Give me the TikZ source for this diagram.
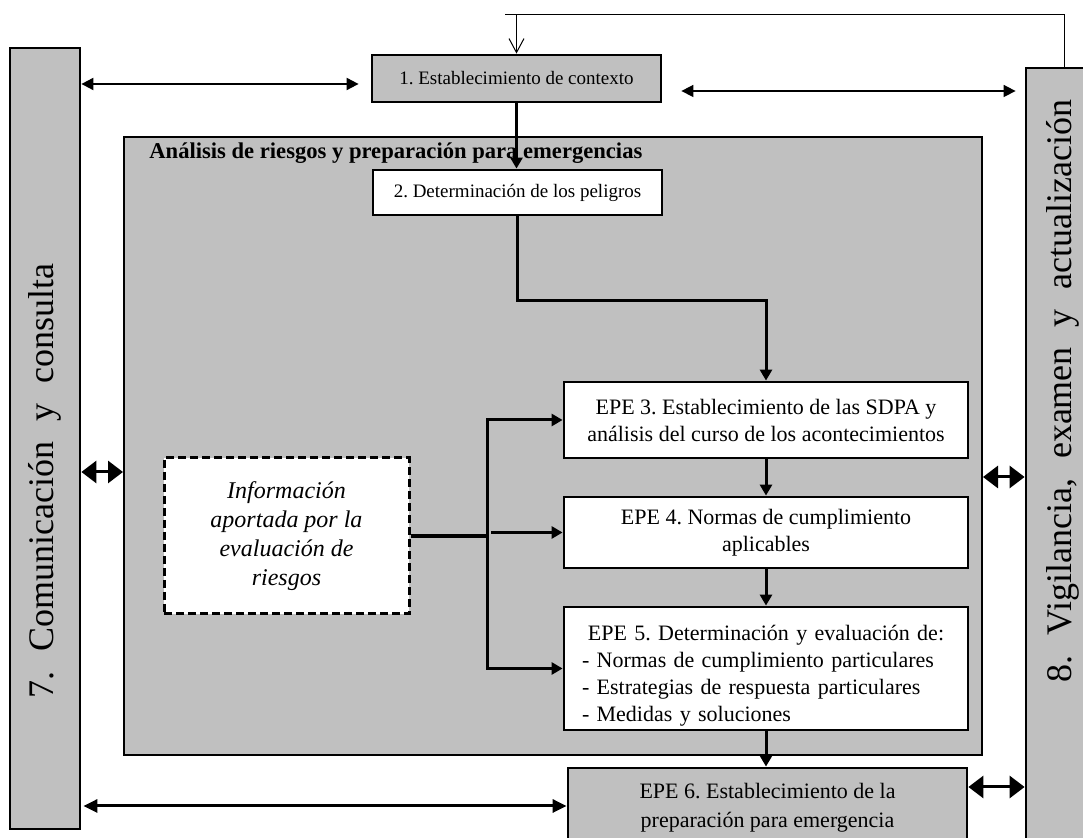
\documentclass[tikz,border=0pt]{standalone}
\usepackage{fontspec}
\setmainfont{Liberation Serif}
\usetikzlibrary{arrows.meta}
\definecolor{boxgray}{RGB}{192,192,192}
\newcommand{\widesp}{\spaceskip=10pt\relax}
\frenchspacing
\tikzset{
  stage/.style={draw, line width=1.4pt, fill=white, align=center, inner sep=0pt},
  flow/.style={line width=1.5pt, -{Triangle[length=5.5pt,width=6pt]}},
  link/.style={line width=1pt, {Triangle[length=6pt,width=6pt]}-{Triangle[length=6pt,width=6pt]}},
  biglink/.style={line width=1.5pt, {Triangle[length=7.5pt,width=11pt]}-{Triangle[length=7.5pt,width=11pt]}},
  sidetxt/.style={rotate=90, font=\fontsize{18}{21}\selectfont}
}
\begin{document}
\begin{tikzpicture}[x=0.5pt, y=-0.5pt]
    \clip (0,0) rectangle (1083,838);

      % Column 7
      \node[draw, line width=1.4pt, fill=boxgray, minimum width=35pt, minimum height=390.5pt, inner sep=0pt] (comm) at (45,438.5) {};
      \node[sidetxt] (commtxt) at (45,481) {\widesp 7. Comunicación y consulta};

      % Column 8
      \node[draw, line width=1.4pt, fill=boxgray, minimum width=47pt, minimum height=396pt, inner sep=0pt] (vig) at (1073,464) {};
      \node[sidetxt] (vigtxt) at (1063,391) {\widesp 8. Vigilancia, examen y actualización};

      % Grey region
      \node[draw, line width=1pt, fill=boxgray, minimum width=429pt, minimum height=309pt, inner sep=0pt] (region) at (553,446) {};
      \node[anchor=base west, inner sep=0pt, font=\bfseries\fontsize{11.3}{13}\selectfont] (regtitle) at (149,159) {Análisis de riesgos y preparación para emergencias};

      % Steps 1 and 2
      \node[stage, fill=boxgray, minimum width=144.5pt, minimum height=23.5pt, font=\fontsize{9.5}{11}\selectfont] (ctx) at (516.5,78.5) {1. Establecimiento de contexto};
      \node[stage, minimum width=144.5pt, minimum height=22.5pt, font=\fontsize{9.5}{11}\selectfont] (hazards) at (517.5,192.5) {2. Determinación de los peligros};

      % Input box
      \node[draw, dash pattern=on 4pt off 2pt, line width=1.5pt, fill=white, minimum width=122.5pt, minimum height=78pt, align=center, font=\itshape\fontsize{12}{14.5}\selectfont] (info) at (286.5,536) {Información\\aportada por la\\evaluación de\\riesgos};

      % EPE 3 to 6
      \node[stage, minimum width=202pt, minimum height=38pt, font=\fontsize{11}{13.5}\selectfont] (epe3) at (766,420) {EPE 3. Establecimiento de las SDPA y\\análisis del curso de los acontecimientos};
      \node[stage, minimum width=202pt, minimum height=35.5pt, font=\fontsize{11}{13.5}\selectfont] (epe4) at (766,532.5) {EPE 4. Normas de cumplimiento\\aplicables};
      \node[stage, minimum width=202pt, minimum height=61.5pt, text width=184pt, align=left, font=\fontsize{11}{13.5}\selectfont] (epe5) at (766,668.5) {\rule{0pt}{15pt}\makebox[184pt][c]{EPE 5. Determinación y evaluación de:}\\- Normas de cumplimiento particulares\\- Estrategias de respuesta particulares\\- Medidas y soluciones};
      \node[stage, fill=boxgray, minimum width=199.5pt, minimum height=40pt, font=\fontsize{11}{14.5}\selectfont] (epe6) at (767.5,808) {EPE 6. Establecimiento de la\\preparación para emergencia};

      % Flow
      \draw[flow] (ctx.south) -- (ctx.south |- hazards.north);
      \draw[flow] (hazards.south) -- ++(0,84) -| (epe3.north);
      \draw[flow] (epe3.south) -- (epe4.north);
      \draw[flow] (epe4.south) -- (epe5.north);
      \draw[flow] (epe5.south) -- (epe5.south |- epe6.north);

      % Input branches
      \coordinate (fork) at (487,536);
      \draw[line width=2pt] (info.east) -- (fork);
      \draw[flow] (fork) |- (epe3.west);
      \draw[flow] (fork) |- (epe5.west);
      \draw[flow] ([xshift=2pt]fork |- epe4.west) -- (epe4.west);

      % Links to the columns
      \coordinate (ctxL) at ([shift={(-6pt,-2.75pt)}]ctx.west);
      \draw[link] (comm.east |- ctxL) -- (ctxL);
      \coordinate (ctxR) at ([shift={(9.5pt,-6.25pt)}]ctx.east);
      \draw[link, line width=0.8pt] (ctxR) -- ([xshift=-4.5pt]vig.west |- ctxR);
      \draw[biglink] (comm.east |- 0,472) -- (region.west |- 0,472);
      \draw[biglink] (region.east |- 0,477) -- (vig.west |- 0,477);
      \draw[link, line width=1.5pt, {Triangle[length=7pt,width=6.5pt]}-{Triangle[length=7pt,width=6.5pt]}] ([xshift=1pt]comm.east |- 0,806) -- (epe6.west |- 0,806);
      \draw[biglink] (epe6.east |- 0,787) -- (vig.west |- 0,787);

      % Feedback line
      \coordinate (fbend) at (505,15);
      \draw[line width=0.5pt] ([xshift=-4.5pt]vig.north) |- (fbend);
      \draw[line width=0.5pt, -{Straight Barb[length=7pt,width=7.5pt]}] (ctx.north |- fbend) -- (ctx.north);
    \end{tikzpicture}
\end{document}
